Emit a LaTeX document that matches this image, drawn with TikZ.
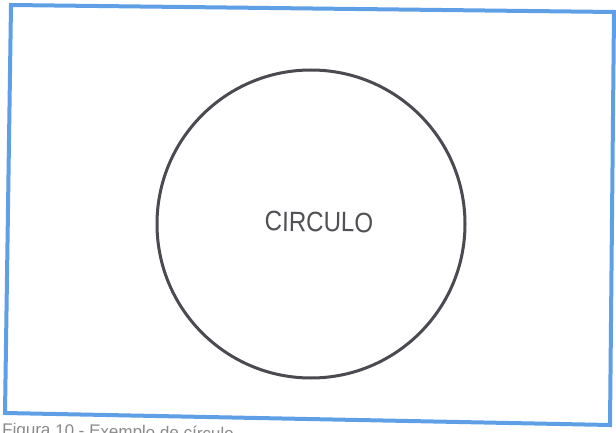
\documentclass[tikz,border=0pt]{standalone}
\usepackage{fontspec}
\setmainfont{Liberation Sans}
\definecolor{framecol}{HTML}{5E9FE6}
\definecolor{circcol}{HTML}{4A4A50}
\definecolor{textcol}{HTML}{505055}
\definecolor{capcol}{HTML}{8A8A8A}
\begin{document}
\begin{tikzpicture}[x=1pt,y=1pt,
  framestyle/.style={draw=framecol, line width=4pt, line join=miter},
  circstyle/.style={circle, draw=circcol, line width=3pt, minimum size=308pt, inner sep=0pt},
  labelstyle/.style={text=textcol, font=\fontsize{28}{30}\selectfont, xscale=0.86, rotate=-0.8, inner sep=0pt},
  capstyle/.style={text=capcol, font=\fontsize{17}{19}\selectfont, rotate=-1.2, inner sep=0pt, anchor=base west}]
\fill[white] (0,0) rectangle (616,432);
\useasboundingbox (0,0) rectangle (616,432);
\begin{scope}
\clip (0,0) rectangle (616,432);
\coordinate (tl) at (11,427);
\coordinate (tr) at (614,420);
\coordinate (br) at (610,7);
\coordinate (bl) at (5,19);
\draw[framestyle] (tl) -- (tr) -- (br) -- (bl) -- cycle;
\node[circstyle] (circ) at (311,208) {};
\node[labelstyle] (lbl) at (319,210) {CIRCULO};
\node[capstyle] (cap) at (2,-3) {Figura 10 - Exemplo de círculo};
\end{scope}
\end{tikzpicture}
\end{document}
